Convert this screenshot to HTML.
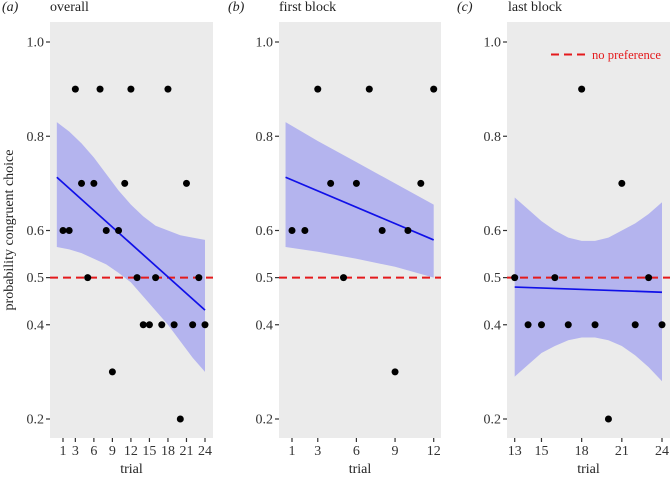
<!DOCTYPE html>
<html><head><meta charset="utf-8"><style>
html,body{margin:0;padding:0;background:#fff;}
svg{display:block;}
svg text{font-family:"Liberation Serif","Times New Roman",serif;}
</style></head><body>
<svg id="chart" width="670" height="477" viewBox="0 0 670 477" xmlns="http://www.w3.org/2000/svg"></svg>
<script>
const yTicks = [1.0, 0.8, 0.6, 0.5, 0.4, 0.2];
const yTickLabels = ["1.0", "0.8", "0.6", "0.5", "0.4", "0.2"];
const trialsAll = [1,2,3,4,5,6,7,8,9,10,11,12,13,14,15,16,17,18,19,20,21,22,23,24];
const valuesAll = [0.6,0.6,0.9,0.7,0.5,0.7,0.9,0.6,0.3,0.6,0.7,0.9,0.5,0.4,0.4,0.5,0.4,0.9,0.4,0.2,0.7,0.4,0.5,0.4];
const fitA_x = [0, 24];
const fitA_y = [0.713, 0.431];
const bandA_x = [0, 2, 4, 6, 8, 10, 12, 14, 16, 18, 20, 22, 24];
const bandA_hi = [0.83, 0.81, 0.785, 0.755, 0.72, 0.685, 0.655, 0.63, 0.61, 0.60, 0.59, 0.585, 0.58];
const bandA_lo = [0.565, 0.56, 0.552, 0.54, 0.528, 0.51, 0.49, 0.46, 0.43, 0.40, 0.365, 0.33, 0.30];
const fitB_x = [0.5, 12];
const fitB_y = [0.713, 0.58];
const bandB_x = [0.5, 3, 6, 9, 12];
const bandB_hi = [0.83, 0.79, 0.745, 0.70, 0.655];
const bandB_lo = [0.565, 0.555, 0.54, 0.523, 0.50];
const fitC_x = [13, 24];
const fitC_y = [0.48, 0.469];
const bandC_x = [13, 14, 15, 16, 17, 18, 19, 20, 21, 22, 23, 24];
const bandC_hi = [0.67, 0.645, 0.62, 0.60, 0.585, 0.578, 0.578, 0.585, 0.60, 0.615, 0.635, 0.66];
const bandC_lo = [0.29, 0.315, 0.34, 0.355, 0.367, 0.373, 0.373, 0.367, 0.355, 0.335, 0.31, 0.28];
const xTicksA = [1,3,6,9,12,15,18,21,24];
const xTicksB = [1,3,6,9,12];
const xTicksC = [13,15,18,21,24];
const refLine = 0.5;

const NS = "http://www.w3.org/2000/svg";
const svg = document.getElementById('chart');
function mk(tag, attrs, parent){const e=document.createElementNS(NS,tag);for(const k in attrs)e.setAttribute(k,attrs[k]);(parent||svg).appendChild(e);return e;}
const Y = v => 42 + (1 - v) * 471.25;
const panels = [
  {id:'a', letter:'(a)', title:'overall', lx:2, tx:50, x0:50, x1:213, t1:1, t2:24, p1:63, p2:205, ticks:xTicksA, lo:1, hi:24, fx:fitA_x, fy:fitA_y, bx:bandA_x, bh:bandA_hi, bl:bandA_lo},
  {id:'b', letter:'(b)', title:'first block', lx:228, tx:279, x0:279, x1:441, t1:1, t2:12, p1:292, p2:433.7, ticks:xTicksB, lo:1, hi:12, fx:fitB_x, fy:fitB_y, bx:bandB_x, bh:bandB_hi, bl:bandB_lo},
  {id:'c', letter:'(c)', title:'last block', lx:457, tx:508, x0:507, x1:670, t1:13, t2:24, p1:514.7, p2:662, ticks:xTicksC, lo:13, hi:24, fx:fitC_x, fy:fitC_y, bx:bandC_x, bh:bandC_hi, bl:bandC_lo}
];
panels.forEach(p=>{
  const X = t => p.p1 + (t - p.t1) * (p.p2 - p.p1) / (p.t2 - p.t1);
  const g = mk('g',{});
  
  
  const lt = mk('text',{x:p.lx,y:11,'font-size':14,'font-style':'italic',fill:'#222'},g); lt.textContent=p.letter;
   
  const tt = mk('text',{x:p.tx,y:11,'font-size':14,fill:'#222'},g); tt.textContent=p.title;
   
  const bg = mk('rect',{x:p.x0,y:22,width:p.x1-p.x0,height:416,fill:'#ebebeb'},g);
   
  yTicks.forEach((v,i)=>{
    mk('line',{x1:p.x0-4,x2:p.x0,y1:Y(v),y2:Y(v),stroke:'#333','stroke-width':1.2},g);
    const t = mk('text',{x:p.x0-6,y:Y(v)+4.5,'text-anchor':'end','font-size':14,fill:'#333'},g); t.textContent=yTickLabels[i];
     
  });
  p.ticks.forEach(v=>{
    mk('line',{x1:X(v),x2:X(v),y1:438,y2:442,stroke:'#333','stroke-width':1.2},g);
    const t = mk('text',{x:X(v),y:455,'text-anchor':'middle','font-size':14,fill:'#333'},g); t.textContent=String(v);
     
  });
  const xt = mk('text',{x:(p.x0+p.x1)/2,y:473,'text-anchor':'middle','font-size':14,fill:'#222'},g); xt.textContent='trial';
   
  let d = p.bx.map((t,i)=>(i?'L':'M')+X(t)+','+Y(p.bh[i])).join(' ');
  for(let i=p.bx.length-1;i>=0;i--) d += ' L'+X(p.bx[i])+','+Y(p.bl[i]);
  const band = mk('path',{d:d+' Z',fill:'#b4b4ee'},g);
   
  const ref = mk('line',{x1:p.x0,x2:p.x1,y1:Y(refLine),y2:Y(refLine),stroke:'#e41a1c','stroke-width':2,'stroke-dasharray':'8,5'},g);
   
  const fit = mk('line',{x1:X(p.fx[0]),y1:Y(p.fy[0]),x2:X(p.fx[1]),y2:Y(p.fy[1]),stroke:'#1010e8','stroke-width':1.7},g);
   
  trialsAll.forEach((t,i)=>{
    if(t<p.lo||t>p.hi) return;
    const c = mk('circle',{cx:X(t),cy:Y(valuesAll[i]),r:3.5,fill:'#000'},g);
     
  });
});
const yt = mk('text',{x:0,y:0,transform:'translate(13,230) rotate(-90)','text-anchor':'middle','font-size':14,fill:'#222'});
yt.textContent='probability congruent choice';
 
const lg = mk('g',{});
 
mk('line',{x1:551,x2:585,y1:54.5,y2:54.5,stroke:'#e41a1c','stroke-width':2,'stroke-dasharray':'8,5'},lg);
const lt2 = mk('text',{x:592,y:59,'font-size':13,fill:'#e41a1c',textLength:69,lengthAdjust:'spacingAndGlyphs'},lg); lt2.textContent='no preference';
</script>
</body></html>
